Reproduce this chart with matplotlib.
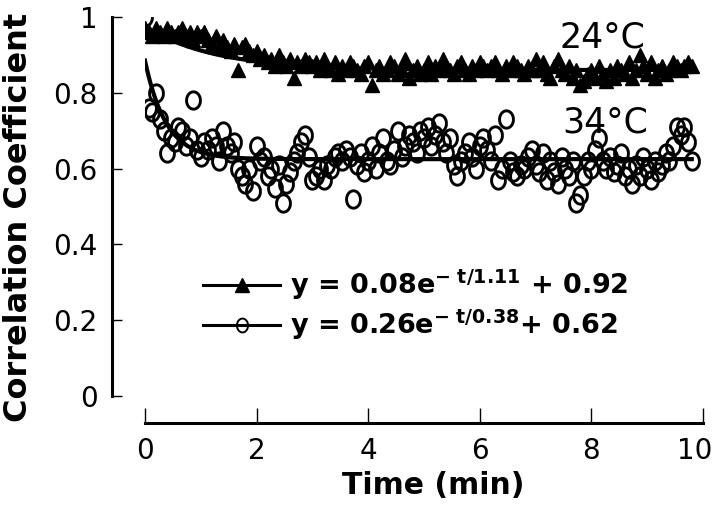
import numpy as np
import matplotlib
matplotlib.use("Agg")
import matplotlib.pyplot as plt
import matplotlib.transforms as mtransforms
from matplotlib.lines import Line2D

# Data: samples every 4 s
t_step = 4 / 60
temp_24 = [0.97, 0.96, 0.95, 0.97, 0.96, 0.95, 0.97, 0.96, 0.95, 0.96, 0.97, 0.95, 0.96, 0.94, 0.96,
           0.95, 0.96, 0.94, 0.93, 0.95, 0.92, 0.94, 0.92, 0.91, 0.93, 0.86, 0.92, 0.93, 0.91, 0.90,
           0.91, 0.89, 0.90, 0.88, 0.89, 0.87, 0.90, 0.88, 0.87, 0.89, 0.84, 0.88, 0.87, 0.89, 0.88,
           0.87, 0.88, 0.86, 0.89, 0.87, 0.86, 0.88, 0.85, 0.87, 0.86, 0.88, 0.87, 0.86, 0.85, 0.87,
           0.88, 0.82, 0.86, 0.87, 0.85, 0.86, 0.88, 0.87, 0.85, 0.86, 0.89, 0.84, 0.86, 0.87, 0.85,
           0.86, 0.88, 0.85, 0.87, 0.86, 0.89, 0.87, 0.86, 0.85, 0.87, 0.88, 0.86, 0.85, 0.87, 0.86,
           0.88, 0.87, 0.86, 0.87, 0.88, 0.86, 0.85, 0.87, 0.86, 0.88, 0.87, 0.86, 0.85, 0.87, 0.86,
           0.89, 0.86, 0.88, 0.85, 0.84, 0.87, 0.89, 0.86, 0.85, 0.87, 0.84, 0.86, 0.82, 0.83, 0.85,
           0.86, 0.84, 0.87, 0.85, 0.83, 0.86, 0.84, 0.87, 0.86, 0.85, 0.88, 0.84, 0.86, 0.90, 0.87,
           0.85, 0.88, 0.84, 0.86, 0.87, 0.85, 0.86, 0.88, 0.87, 0.86, 0.87, 0.88, 0.87]
temp_34 = [1.00, 0.76, 0.75, 0.80, 0.73, 0.70, 0.64, 0.68, 0.67, 0.71, 0.70, 0.66, 0.68, 0.78, 0.65,
           0.63, 0.67, 0.65, 0.68, 0.66, 0.62, 0.70, 0.66, 0.64, 0.67, 0.60, 0.58, 0.56, 0.60, 0.54,
           0.66, 0.62, 0.63, 0.58, 0.60, 0.55, 0.61, 0.51, 0.56, 0.59, 0.62, 0.64, 0.67, 0.69, 0.63,
           0.57, 0.58, 0.60, 0.57, 0.61, 0.60, 0.63, 0.64, 0.62, 0.65, 0.63, 0.52, 0.61, 0.64, 0.59,
           0.62, 0.66, 0.60, 0.64, 0.68, 0.62, 0.61, 0.65, 0.70, 0.63, 0.66, 0.69, 0.67, 0.64, 0.70,
           0.68, 0.71, 0.66, 0.69, 0.72, 0.67, 0.64, 0.68, 0.61, 0.58, 0.62, 0.64, 0.67, 0.63, 0.60,
           0.66, 0.68, 0.65, 0.62, 0.69, 0.57, 0.60, 0.73, 0.62, 0.59, 0.58, 0.61, 0.60, 0.63, 0.65,
           0.61, 0.59, 0.64, 0.57, 0.62, 0.59, 0.56, 0.63, 0.60, 0.58, 0.62, 0.51, 0.53, 0.58, 0.62,
           0.60, 0.65, 0.68, 0.62, 0.60, 0.63, 0.59, 0.61, 0.64, 0.58, 0.60, 0.56, 0.61, 0.58, 0.63,
           0.60, 0.57, 0.62, 0.59, 0.61, 0.64, 0.62, 0.66, 0.71, 0.69, 0.71, 0.67, 0.62]
t_24 = np.arange(len(temp_24)) * t_step
t_34 = np.arange(len(temp_34)) * t_step

# fitted curves (amplitude, tau, offset) as drawn
fit_24 = (0.115, 1.25, 0.86)
fit_34 = (0.26, 0.38, 0.625)
label_24 = r'y = 0.08e$^{\mathbf{-\ t/1.11}}$ + 0.92'
label_34 = r'y = 0.26e$^{\mathbf{-\ t/0.38}}$+ 0.62'

x_ticks = [0, 2, 4, 6, 8, 10]
y_ticks = [0, 0.2, 0.4, 0.6, 0.8, 1]
y_ticklabels = ['0', '0.2', '0.4', '0.6', '0.8', '1']

plt.rcParams.update({
    'font.family': ['DejaVu Sans'],
    'mathtext.fontset': 'custom',
    'mathtext.rm': 'DejaVu Sans',
    'mathtext.bf': 'DejaVu Sans:bold',
    'mathtext.it': 'DejaVu Sans:italic',
})

fig = plt.figure(figsize=(7.17, 5.11), dpi=100)
ax = fig.add_axes([0.2022, 0.2250, 0.7782, 0.7417])

# ellipse-shaped open circle marker (taller than wide)
ang = np.linspace(0, 2 * np.pi, 41)
ellipse = np.column_stack([0.8 * np.cos(ang), np.sin(ang)])

tt = np.linspace(0, 9.8, 300)
a, tau, c = fit_24
ax.plot(tt, a * np.exp(-tt / tau) + c, color='black', lw=3, zorder=2)
a, tau, c = fit_34
ax.plot(tt, a * np.exp(-tt / tau) + c, color='black', lw=3, zorder=2)

ax.plot(t_24, temp_24, linestyle='none', marker='^', ms=10, color='black', zorder=3)
ax.plot(t_34, temp_34, linestyle='none', marker=ellipse, ms=12.5, mfc='none',
        mec='black', mew=2.1, zorder=3)

ax.text(8.2, 0.947, '24°C', fontsize=25, ha='center', va='center')
ax.text(8.25, 0.722, '34°C', fontsize=25, ha='center', va='center')

handles = [
    Line2D([], [], color='black', lw=2.2, marker='^', ms=10),
    Line2D([], [], color='black', lw=2.2, marker=ellipse, ms=10, mfc='none', mew=1.4),
]
leg = ax.legend(handles, [label_24, label_34], loc='center left',
                bbox_to_anchor=(0.104, 0.24), frameon=False, handlelength=2.85,
                handletextpad=0.36, labelspacing=0.2, borderpad=0, borderaxespad=0,
                prop={'size': 19.5, 'weight': 'bold'})

ax.set_xlim(0, 10)
ax.set_ylim(0, 1)
ax.set_xticks(x_ticks)
ax.set_yticks(y_ticks)
ax.set_yticklabels(y_ticklabels)

for s in ['top', 'right']:
    ax.spines[s].set_visible(False)
ax.spines['left'].set_position(('outward', 24))
ax.spines['bottom'].set_position(('outward', 19.5))
ax.spines['left'].set_bounds(0, 1)
ax.spines['bottom'].set_bounds(0, 10)
ax.spines['left'].set_linewidth(2.2)
ax.spines['bottom'].set_linewidth(2.2)

ax.tick_params(axis='y', direction='in', length=7, width=1, labelsize=20, pad=10)
ax.tick_params(axis='x', direction='in', length=11, width=1, labelsize=20, pad=10)

# nudge the last x tick label left so it stays inside the figure
last = ax.get_xticklabels()[-1]
last.set_transform(last.get_transform() +
                   mtransforms.ScaledTranslation(-6 / 72, 0, fig.dpi_scale_trans))

ax.set_xlabel('Time (min)', fontsize=21.5, fontweight='bold')
ax.set_ylabel('Correlation Coefficient', fontsize=23, fontweight='bold')
ax.xaxis.set_label_coords(0.516, -0.197)
ax.yaxis.set_label_coords(-0.199, 0.47)

fig.savefig('out.png', dpi=100)
